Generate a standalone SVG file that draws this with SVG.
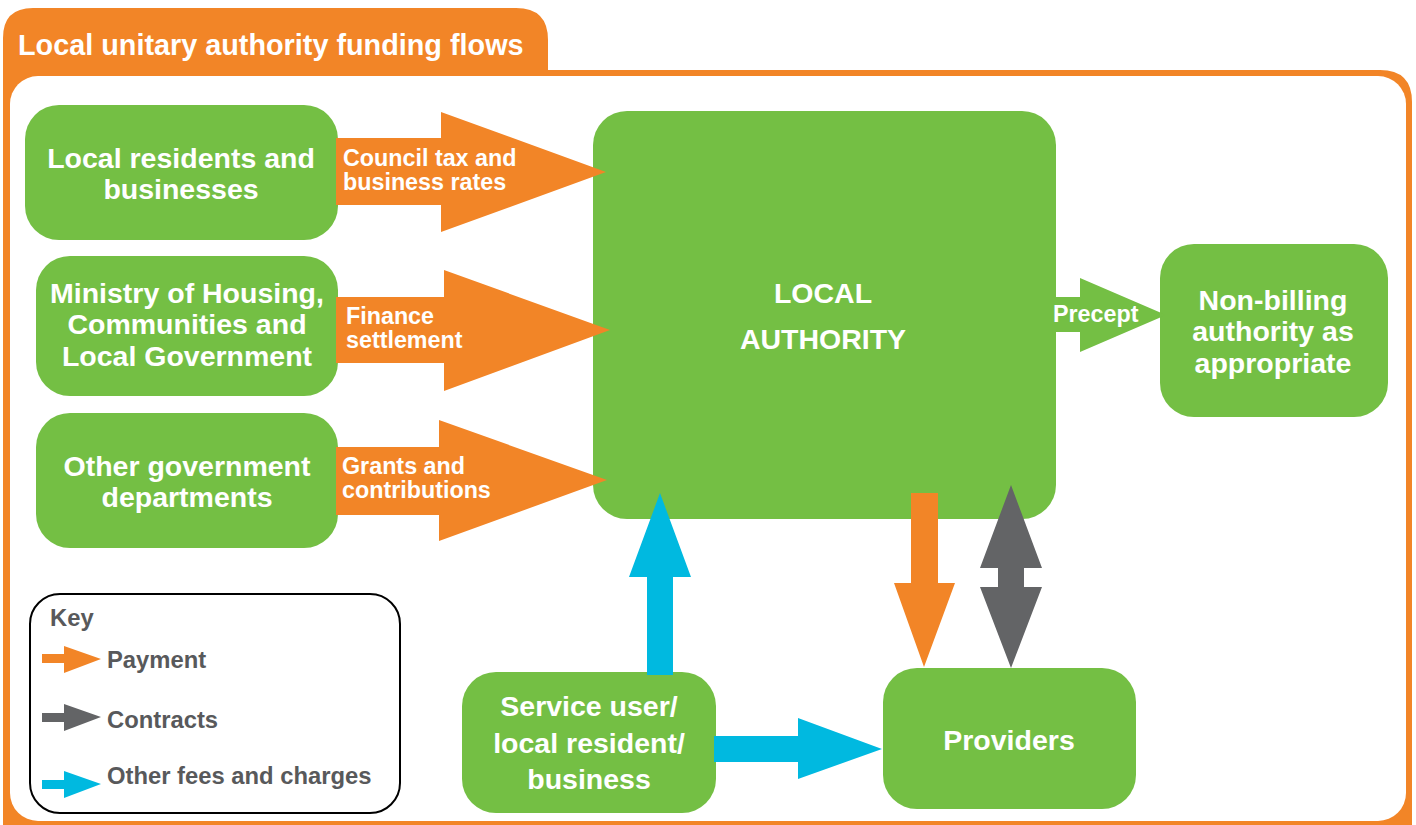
<svg xmlns="http://www.w3.org/2000/svg" width="1416" height="825" viewBox="0 0 1416 825">
<style>
.node{fill:#74BF44}
.nt{font-family:"Liberation Sans",Arial,sans-serif;font-weight:bold;font-size:28.5px;fill:#fff;text-anchor:middle}
.al{font-family:"Liberation Sans",Arial,sans-serif;font-weight:bold;font-size:23.3px;fill:#fff}
.kt{font-family:"Liberation Sans",Arial,sans-serif;font-weight:bold;font-size:23.8px;fill:#58595B}
.or{fill:#F28527}
.bl{fill:#00B9E0}
.gr{fill:#636466}
</style>
<rect width="1416" height="825" fill="#fff"/>
<g id="frame">
<path class="or" d="M3,830 V38 Q3,8 33,8 H516 Q548,8 548,40 V70 H1380 Q1412,70 1412,102 V830 Z"/>
<rect x="10" y="76" width="1396" height="745" rx="28" fill="#fff"/>
<text x="18" y="55" style="font-family:'Liberation Sans',Arial,sans-serif;font-weight:bold;font-size:28.8px;fill:#fff">Local unitary authority funding flows</text>
</g>
<g id="n-residents">
<rect class="node" x="25" y="105" width="313" height="135" rx="34"/>
<text class="nt" x="181" y="168">Local residents and</text>
<text class="nt" x="181" y="199">businesses</text>
</g>
<g id="n-ministry">
<rect class="node" x="36" y="256" width="302" height="140" rx="34"/>
<text class="nt" x="187" y="303">Ministry of Housing,</text>
<text class="nt" x="187" y="334">Communities and</text>
<text class="nt" x="187" y="366">Local Government</text>
</g>
<g id="n-other">
<rect class="node" x="36" y="413" width="302" height="135" rx="34"/>
<text class="nt" x="187" y="476">Other government</text>
<text class="nt" x="187" y="507">departments</text>
</g>
<g id="n-la">
<rect class="node" x="593" y="111" width="463" height="408" rx="34"/>
<text class="nt" x="823" y="303">LOCAL</text>
<text class="nt" x="823" y="349">AUTHORITY</text>
</g>
<g id="n-nonbilling">
<rect class="node" x="1160" y="244" width="228" height="173" rx="34"/>
<text class="nt" x="1273" y="310">Non-billing</text>
<text class="nt" x="1273" y="341">authority as</text>
<text class="nt" x="1273" y="373">appropriate</text>
</g>
<g id="n-service">
<rect class="node" x="462" y="672" width="254" height="141" rx="34"/>
<text class="nt" x="589" y="716">Service user/</text>
<text class="nt" x="589" y="753">local resident/</text>
<text class="nt" x="589" y="789">business</text>
</g>
<g id="n-providers">
<rect class="node" x="883" y="668" width="253" height="141" rx="34"/>
<text class="nt" x="1009" y="750">Providers</text>
</g>
<g id="connectors">
<polygon class="or" points="336,138 441,138 441,112 606,172 441,232 441,205 336,205"/>
<text class="al" x="343" y="166">Council tax and</text>
<text class="al" x="343" y="190">business rates</text>
<polygon class="or" points="336,297 444,297 444,270 610,330 444,391 444,363 336,363"/>
<text class="al" x="346" y="324">Finance</text>
<text class="al" x="346" y="348">settlement</text>
<polygon class="or" points="336,447 439,447 439,420 607,480 439,541 439,515 336,515"/>
<text class="al" x="342" y="474">Grants and</text>
<text class="al" x="342" y="498">contributions</text>
<polygon class="node" points="1054,297 1080,297 1080,278 1166,315 1080,352 1080,332 1054,332"/>
<text class="al" x="1053" y="322">Precept</text>
<polygon class="bl" points="647,675 647,577 629,577 660,493 691,577 673,577 673,675"/>
<polygon class="bl" points="714,736 798,736 798,718 882,749 798,779 798,762 714,762"/>
<polygon class="or" points="911,493 938,493 938,583 955,583 924,667 894,583 911,583"/>
<polygon class="gr" points="1011,485 1042,568 1024,568 1024,587 1042,587 1011,668 980,587 998,587 998,568 980,568"/>
</g>
<g id="key">
<rect x="30" y="594" width="370" height="219" rx="30" fill="#fff" stroke="#000" stroke-width="2"/>
<text class="kt" x="50" y="626">Key</text>
<polygon class="or" points="42,654 64,654 64,646 101,659 64,673 64,663 42,663"/>
<text class="kt" x="107" y="668">Payment</text>
<polygon class="gr" points="42,713 64,713 64,704 101,717 64,731 64,722 42,722"/>
<text class="kt" x="107" y="728">Contracts</text>
<polygon class="bl" points="42,780 64,780 64,771 101,784 64,798 64,789 42,789"/>
<text class="kt" x="107" y="784">Other fees and charges</text>
</g>
</svg>
